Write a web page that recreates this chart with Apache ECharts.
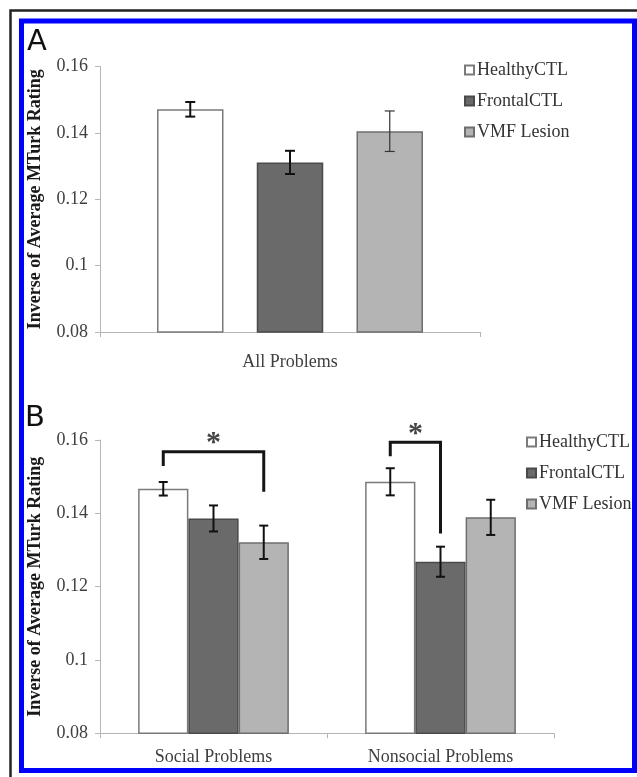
<!DOCTYPE html>
<html>
<head>
<meta charset="utf-8">
<script src="https://cdn.jsdelivr.net/npm/echarts@6/dist/echarts.min.js"></script>
<style>
html,body{margin:0;padding:0;background:#fff;}
#chart{width:637px;height:777px;}
</style>
</head>
<body>
<div id="chart"></div>
<script>
// ---- data ----
const groups = ['HealthyCTL', 'FrontalCTL', 'VMF Lesion'];
const categoriesA = ['All Problems'];
const categoriesB = ['Social Problems', 'Nonsocial Problems'];
const yTicks = [0.08, 0.10, 0.12, 0.14, 0.16];
const yAxisTitle = 'Inverse of Average MTurk Rating';

// Panel A: one value per group
const healthyA = [0.1471];
const frontalA = [0.1311];
const vmfA = [0.1405];
const healthyAErr = [0.0022];
const frontalAErr = [0.0035];
const vmfAErr = [0.0061];

// Panel B: [Social, Nonsocial]
const healthyB = [0.1467, 0.1486];
const frontalB = [0.1386, 0.1268];
const vmfB = [0.1321, 0.1389];
const healthyBErr = [0.00185, 0.0037];
const frontalBErr = [0.00355, 0.0041];
const vmfBErr = [0.00455, 0.0048];

// significance brackets: [category, fromGroup, toGroup, topValue, leftEndValue, rightEndValue]
const bracketsB = [
  [0, 0, 2, 0.1568, 0.1529, 0.1459],
  [1, 0, 1, 0.1594, 0.1556, 0.1345]
];
const starLabel = '*';

// ---- styling ----
const SERIF = '"Liberation Serif", "Times New Roman", serif';
const fills = ['#ffffff', '#6a6a6a', '#b4b4b4'];
const borders = ['#7a7a7a', '#4a4a4a', '#6e6e6e'];

const chart = echarts.init(document.getElementById('chart'), null, {renderer: 'canvas'});

// bar offset helpers (mirror bar layout)
const A_CAT_GAP = 0.30, A_BAR_GAP = 0.5;
const B_CAT_GAP = 0.336, B_BAR_GAP = 0;
function barOffset(band, idx, catGap, barGap) {
  const w = band * (1 - catGap) / (3 + 2 * barGap);
  return (idx - 1) * w * (1 + barGap);
}

function errSeries(name, xIdx, yIdx, means, errs, gi, catGap, barGap, lw, color, cap) {
  return {
    type: 'custom',
    name: name,
    xAxisIndex: xIdx, yAxisIndex: yIdx,
    z: 5,
    clip: false,
    silent: true,
    encode: {x: 0, y: 1},
    data: means.map((m, i) => [i, m, errs[i]]),
    renderItem: function (params, api) {
      const c = api.value(0), m = api.value(1), e = api.value(2);
      const band = api.size([1, 0])[0];
      const off = barOffset(band, gi, catGap, barGap);
      const top = api.coord([c, m + e]);
      const bot = api.coord([c, m - e]);
      const x = top[0] + off;
      const st = {stroke: color, lineWidth: lw};
      return {
        type: 'group',
        children: [
          {type: 'line', shape: {x1: x, y1: top[1], x2: x, y2: bot[1]}, style: st},
          {type: 'line', shape: {x1: x - cap, y1: top[1], x2: x + cap, y2: top[1]}, style: st},
          {type: 'line', shape: {x1: x - cap, y1: bot[1], x2: x + cap, y2: bot[1]}, style: st}
        ]
      };
    }
  };
}

function barSeries(name, gi, xIdx, yIdx, data, catGap, barGap) {
  return {
    type: 'bar',
    name: name,
    xAxisIndex: xIdx, yAxisIndex: yIdx,
    data: data,
    barCategoryGap: (catGap * 100) + '%',
    barGap: (barGap * 100) + '%',
    itemStyle: {color: fills[gi], borderColor: borders[gi], borderWidth: 1.5},
    emphasis: {disabled: true},
    animation: false
  };
}

const yAxisCommon = {
  type: 'value',
  min: yTicks[0],
  max: yTicks[yTicks.length - 1],
  interval: 0.02,
  name: yAxisTitle,
  nameLocation: 'middle',
  nameRotate: 90,
  nameGap: 56,
  nameTextStyle: {fontFamily: SERIF, fontSize: 18, fontWeight: 'bold', color: '#1a1a1a'},
  axisLine: {show: true, lineStyle: {color: '#b5b5b5', width: 1}},
  axisTick: {show: true, length: 5, lineStyle: {color: '#b5b5b5'}},
  splitLine: {show: false},
  axisLabel: {fontFamily: SERIF, fontSize: 18, color: '#404040', margin: 12,
    formatter: v => String(+v.toFixed(2))}
};

const xAxisCommon = {
  type: 'category',
  axisLine: {show: true, lineStyle: {color: '#b5b5b5', width: 1}},
  axisTick: {show: true, length: 5, lineStyle: {color: '#b5b5b5'}},
  axisLabel: {fontFamily: SERIF, fontSize: 18, color: '#404040'},
  splitLine: {show: false}
};

const legendCommon = {
  orient: 'vertical',
  icon: 'rect',
  itemWidth: 9,
  itemHeight: 9,
  itemGap: 13,
  padding: 0,
  selectedMode: false,
  data: groups,
  textStyle: {fontFamily: SERIF, fontSize: 18, color: '#333', padding: [0, 0, 0, -2]}
};

const option = {
  animation: false,
  backgroundColor: '#ffffff',
  title: [
    {text: 'A', left: 27, top: 28, padding: 0,
      textStyle: {fontFamily: '"DejaVu Sans", sans-serif', fontSize: 29, fontWeight: 'normal', color: '#111'}},
    {text: 'B', left: 25, top: 404, padding: 0,
      textStyle: {fontFamily: '"DejaVu Sans", sans-serif', fontSize: 29, fontWeight: 'normal', color: '#111'}}
  ],
  legend: [
    Object.assign({}, legendCommon, {left: 464, top: 61}),
    Object.assign({}, legendCommon, {left: 526, top: 433})
  ],
  grid: [
    {left: 100, top: 66.5, width: 380, height: 265.5},
    {left: 100, top: 440, width: 454, height: 293.3}
  ],
  xAxis: [
    Object.assign({}, xAxisCommon, {gridIndex: 0, data: categoriesA,
      axisLabel: Object.assign({}, xAxisCommon.axisLabel, {margin: 21})}),
    Object.assign({}, xAxisCommon, {gridIndex: 1, data: categoriesB,
      axisLabel: Object.assign({}, xAxisCommon.axisLabel, {margin: 15})})
  ],
  yAxis: [
    Object.assign({}, yAxisCommon, {gridIndex: 0}),
    Object.assign({}, yAxisCommon, {gridIndex: 1})
  ],
  series: [
    barSeries(groups[0], 0, 0, 0, healthyA, A_CAT_GAP, A_BAR_GAP),
    barSeries(groups[1], 1, 0, 0, frontalA, A_CAT_GAP, A_BAR_GAP),
    barSeries(groups[2], 2, 0, 0, vmfA, A_CAT_GAP, A_BAR_GAP),
    barSeries(groups[0], 0, 1, 1, healthyB, B_CAT_GAP, B_BAR_GAP),
    barSeries(groups[1], 1, 1, 1, frontalB, B_CAT_GAP, B_BAR_GAP),
    barSeries(groups[2], 2, 1, 1, vmfB, B_CAT_GAP, B_BAR_GAP),
    errSeries('errA0', 0, 0, healthyA, healthyAErr, 0, A_CAT_GAP, A_BAR_GAP, 2, '#111', 5),
    errSeries('errA1', 0, 0, frontalA, frontalAErr, 1, A_CAT_GAP, A_BAR_GAP, 2, '#111', 5),
    errSeries('errA2', 0, 0, vmfA, vmfAErr, 2, A_CAT_GAP, A_BAR_GAP, 1.2, '#333', 5),
    errSeries('errB0', 1, 1, healthyB, healthyBErr, 0, B_CAT_GAP, B_BAR_GAP, 2, '#111', 4.5),
    errSeries('errB1', 1, 1, frontalB, frontalBErr, 1, B_CAT_GAP, B_BAR_GAP, 2, '#111', 4.5),
    errSeries('errB2', 1, 1, vmfB, vmfBErr, 2, B_CAT_GAP, B_BAR_GAP, 2, '#111', 4.5),
    {
      type: 'custom',
      name: 'brackets',
      xAxisIndex: 1, yAxisIndex: 1,
      z: 6,
      clip: false,
      silent: true,
      encode: {x: 0, y: 3},
      data: bracketsB,
      renderItem: function (params, api) {
        const c = api.value(0), g1 = api.value(1), g2 = api.value(2);
        const topV = api.value(3), lV = api.value(4), rV = api.value(5);
        const band = api.size([1, 0])[0];
        const base = api.coord([c, topV]);
        const xl = base[0] + barOffset(band, g1, B_CAT_GAP, B_BAR_GAP);
        const xr = base[0] + barOffset(band, g2, B_CAT_GAP, B_BAR_GAP);
        const yT = base[1];
        const yL = api.coord([c, lV])[1];
        const yR = api.coord([c, rV])[1];
        return {
          type: 'group',
          children: [
            {type: 'polyline', shape: {points: [[xl, yL], [xl, yT], [xr, yT], [xr, yR]]},
              style: {stroke: '#151515', lineWidth: 3, fill: null}},
            {type: 'text', style: {x: (xl + xr) / 2, y: yT - 8, text: starLabel,
              fill: '#444', font: 'bold 30px ' + SERIF, align: 'center', verticalAlign: 'middle'}}
          ]
        };
      }
    }
  ],
  graphic: [
    {type: 'polyline', silent: true, z: 100,
      shape: {points: [[10.5, 777], [10.5, 10.5], [637, 10.5]]},
      style: {stroke: '#222', lineWidth: 2.5, fill: null}},
    {type: 'rect', silent: true, z: 100,
      shape: {x: 21.5, y: 21, width: 613, height: 749.5},
      style: {stroke: '#0000ff', lineWidth: 5, fill: null}}
  ]
};

chart.setOption(option);
</script>
</body>
</html>
